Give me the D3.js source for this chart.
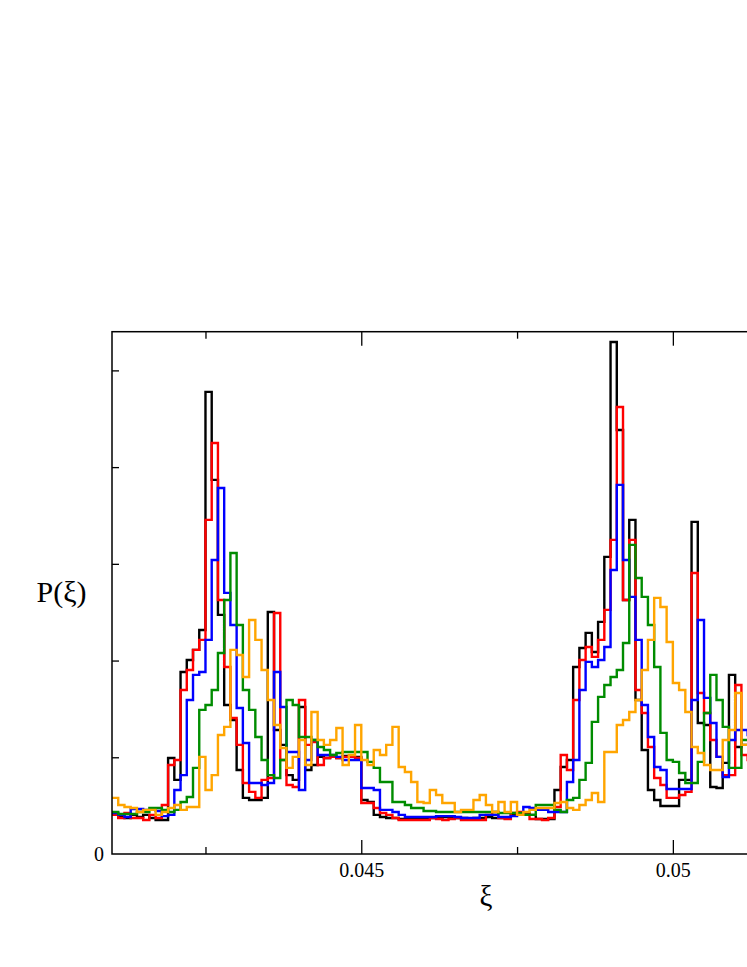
<!DOCTYPE html>
<html lang="en">
  <head>
    <meta charset="utf-8"/>
    <title>P(xi) histograms</title>
    <script src="https://cdn.jsdelivr.net/npm/d3@7"></script>
    <style>
      body { margin: 0; background: #fff; }
      svg { display: block; }
      text { font-family: "Liberation Serif", "Times New Roman", serif; fill: #000; }
    </style>
  </head>
  <body>
    <div id="chart"></div>
    <script type="text/javascript">

      // histogram grid: first bin edge and bin width (in xi)
      var xiLo = 0.041;
      var binWidth = 0.0001;

      // P(xi) per bin
      var pBlack = [2.02,1.91,1.86,2.02,1.91,2.02,1.86,1.76,1.76,4.96,
        3.83,9.41,10.03,10.55,11.58,23.89,19.34,12.36,7.70,6.93,
        4.34,2.90,2.79,2.79,2.90,12.51,6.41,5.64,4.08,3.83,
        7.60,4.34,4.60,5.02,4.96,5.02,4.96,5.07,5.02,5.02,
        2.79,2.69,2.02,1.91,1.86,1.86,1.81,1.81,1.81,1.81,
        1.81,1.86,1.86,1.91,1.91,1.86,1.86,1.81,1.86,1.86,
        1.91,1.86,1.86,1.86,2.02,2.12,2.12,2.02,1.81,1.81,
        1.81,3.31,4.50,4.86,9.67,10.65,11.43,10.44,12.00,15.36,
        26.47,21.92,13.13,17.27,7.96,5.38,3.31,2.79,2.48,2.48,
        2.48,3.83,3.83,17.17,6.77,6.67,3.46,3.41,4.71,9.26,
        5.53,5.64,5.64];

      var pRed = [2.02,1.86,2.12,1.86,1.86,1.76,2.02,1.86,2.53,4.60,
        4.86,8.48,9.51,10.55,11.07,17.27,21.25,13.13,9.67,7.03,
        5.64,3.67,3.21,2.90,3.83,3.93,12.46,4.86,3.57,3.46,
        7.96,5.64,5.79,4.60,4.96,5.02,4.96,5.02,5.02,4.96,
        2.64,2.64,2.38,2.12,2.02,1.86,1.76,1.76,1.76,1.76,
        1.76,1.86,1.81,1.76,1.81,1.86,1.76,1.76,1.76,1.76,
        2.02,2.17,1.86,1.81,2.12,2.17,2.02,1.81,1.81,1.76,
        1.86,2.43,5.12,4.34,7.96,10.03,10.70,10.19,11.07,12.62,
        16.24,23.11,13.13,16.24,8.48,7.29,5.53,3.93,3.57,2.90,
        2.90,3.05,3.21,14.53,8.32,7.29,5.89,5.02,4.08,4.08,
        8.74,5.12,4.86];

      var pBlue = [2.12,2.02,1.91,2.33,2.33,2.28,2.28,2.22,1.96,2.02,
        3.31,4.08,7.96,9.26,9.41,11.07,15.20,18.92,13.50,11.84,
        7.55,5.74,3.67,3.67,3.57,3.67,9.41,7.60,5.27,5.27,
        3.31,4.86,5.89,5.12,5.12,5.12,5.02,4.86,4.86,4.86,
        3.41,3.41,3.31,2.28,2.28,2.17,2.02,1.91,1.91,1.91,
        1.91,1.91,1.96,1.96,1.96,1.91,1.86,1.86,1.86,2.02,
        2.02,2.02,1.91,1.91,1.96,2.02,2.43,2.38,2.28,2.28,
        2.17,2.17,2.17,3.72,4.86,8.48,9.93,9.67,10.03,10.70,
        14.68,19.08,15.20,13.29,11.07,7.70,6.05,4.50,4.34,3.36,
        3.36,3.36,3.36,7.96,12.10,8.07,6.77,5.02,3.98,5.89,
        6.41,6.41,6.15];

      var pGreen = [2.17,2.07,2.07,2.07,2.17,2.17,2.38,2.38,2.28,2.17,
        2.28,2.69,2.95,4.45,7.45,7.70,8.48,10.39,13.13,15.56,
        11.84,8.48,7.45,6.05,4.86,4.08,3.93,4.86,7.96,7.70,
        6.05,6.05,5.89,5.53,5.38,5.12,5.22,5.27,5.27,5.27,
        5.27,4.76,4.45,3.72,3.72,2.69,2.69,2.53,2.38,2.38,
        2.22,2.22,2.17,2.17,2.17,2.17,2.17,2.17,2.17,2.17,
        2.17,2.17,2.12,2.12,2.12,2.12,2.02,2.02,2.53,2.53,
        2.53,2.28,2.17,2.79,2.90,3.83,4.71,6.83,8.12,8.74,
        9.15,9.51,10.91,15.98,14.27,13.29,11.84,9.67,6.26,4.86,
        4.76,4.19,3.67,3.67,4.76,7.29,9.26,7.96,6.57,4.45,
        4.45,5.89,5.89];

      var pOrange = [2.90,2.53,2.43,2.38,2.17,2.28,2.28,2.02,2.17,2.38,
        2.53,2.28,2.43,2.43,5.02,3.31,4.08,6.15,6.57,10.55,
        10.29,9.15,12.10,11.07,9.51,7.96,6.67,5.48,4.45,5.02,
        5.89,4.60,7.34,5.89,5.64,5.89,6.51,4.60,5.12,6.67,
        4.86,4.60,5.38,5.12,5.64,6.57,4.50,4.24,3.72,2.69,
        2.64,3.31,3.05,2.64,2.64,2.17,2.28,2.28,2.79,3.05,
        2.53,2.17,2.69,2.17,2.69,2.02,2.17,2.28,2.38,2.38,
        2.38,2.64,2.69,2.38,2.28,2.53,2.79,3.15,2.69,5.27,
        5.27,6.67,6.93,7.34,7.96,9.51,11.07,13.24,12.77,10.96,
        8.84,8.48,7.34,5.53,5.22,4.60,4.34,4.34,5.89,6.41,
        8.32,5.64,5.64];

      // drawing order, last on top
      var seriesValues = [pBlack, pRed, pBlue, pGreen, pOrange];
      var seriesColours = ["#000000", "#ff0000", "#0000ff", "#008c00", "#ffa500"];

      // axis ticks
      var xMajorTicks = [0.045, 0.05];
      var xMajorLabels = ["0.045", "0.05"];
      var xMinorTicks = [0.0425, 0.0475, 0.0525];
      var yMinorTicks = [5, 10, 15, 20, 25];
      var yLabelTicks = [0];

      var w = 747;
      var h = 967;

      var svg = d3.select("#chart")
        .append("svg")
        .attr("width", w)
        .attr("height", h)
      ;

      // plot frame runs past the right edge of the window, as in the original
      var x = d3.scaleLinear()
        .domain([0.041, 0.052])
        .range([112, 797.5])
      ;
      var y = d3.scaleLinear()
        .domain([0, 27])
        .range([854, 331.7])
      ;

      var plotLeft = x.range()[0], plotRight = x.range()[1];
      var plotTop = y.range()[1], plotBottom = y.range()[0];

      svg.append("defs").append("clipPath")
        .attr("id", "plotClip")
        .append("rect")
        .attr("x", plotLeft)
        .attr("y", plotTop)
        .attr("width", plotRight - plotLeft)
        .attr("height", plotBottom - plotTop)
      ;

      // histogram step lines
      var line = d3.line()
        .x(function(d) { return x(d[0]); })
        .y(function(d) { return y(d[1]); })
        .curve(d3.curveStepAfter)
      ;

      var linesGroup = svg.append("g").attr("clip-path", "url(#plotClip)");
      seriesValues.forEach(function(vals, k) {
        var pts = vals.map(function(v, i) { return [xiLo + i * binWidth, v]; });
        pts.push([xiLo + vals.length * binWidth, vals[vals.length - 1]]);
        linesGroup.append("path")
          .datum(pts)
          .attr("d", line)
          .attr("fill", "none")
          .attr("stroke", seriesColours[k])
          .attr("stroke-width", 2.4)
          .attr("stroke-linejoin", "miter")
        ;
      });

      // axes: ticks point inward, mirrored on top
      function styleAxis(g) {
        g.select(".domain").remove();
        g.selectAll(".tick line").attr("stroke", "#000").attr("stroke-width", 1.3);
        g.selectAll(".tick text")
          .style("font-family", "'Liberation Serif', 'Times New Roman', serif")
          .style("font-size", "20px")
          .attr("fill", "#000");
      }

      svg.append("g")
        .attr("transform", "translate(0," + plotBottom + ")")
        .call(d3.axisBottom(x).tickValues(xMajorTicks)
          .tickFormat(function(d, i) { return xMajorLabels[i]; })
          .tickSizeInner(-14).tickSizeOuter(0).tickPadding(9))
        .call(styleAxis)
      ;
      svg.append("g")
        .attr("transform", "translate(0," + plotBottom + ")")
        .call(d3.axisBottom(x).tickValues(xMinorTicks).tickFormat("")
          .tickSizeInner(-7).tickSizeOuter(0))
        .call(styleAxis)
      ;
      svg.append("g")
        .attr("transform", "translate(0," + plotTop + ")")
        .call(d3.axisTop(x).tickValues(xMajorTicks).tickFormat("")
          .tickSizeInner(-14).tickSizeOuter(0))
        .call(styleAxis)
      ;
      svg.append("g")
        .attr("transform", "translate(0," + plotTop + ")")
        .call(d3.axisTop(x).tickValues(xMinorTicks).tickFormat("")
          .tickSizeInner(-7).tickSizeOuter(0))
        .call(styleAxis)
      ;
      svg.append("g")
        .attr("transform", "translate(" + plotLeft + ",0)")
        .call(d3.axisLeft(y).tickValues(yMinorTicks).tickFormat("")
          .tickSizeInner(-7).tickSizeOuter(0))
        .call(styleAxis)
      ;
      svg.append("g")
        .attr("transform", "translate(" + plotLeft + ",0)")
        .call(d3.axisLeft(y).tickValues(yLabelTicks).tickFormat(d3.format("d"))
          .tickSize(0).tickPadding(8))
        .call(styleAxis)
      ;

      // frame
      svg.append("rect")
        .attr("x", plotLeft)
        .attr("y", plotTop)
        .attr("width", plotRight - plotLeft)
        .attr("height", plotBottom - plotTop)
        .attr("fill", "none")
        .attr("stroke", "#000")
        .attr("stroke-width", 1.5)
      ;

      // axis titles
      svg.append("text")
        .attr("x", 61.5)
        .attr("y", 602)
        .attr("text-anchor", "middle")
        .style("font-size", "30px")
        .text("P(ξ)")
      ;
      svg.append("text")
        .attr("x", 486)
        .attr("y", 906)
        .attr("text-anchor", "middle")
        .style("font-size", "29px")
        .text("ξ")
      ;
    </script>
  </body>
</html>
